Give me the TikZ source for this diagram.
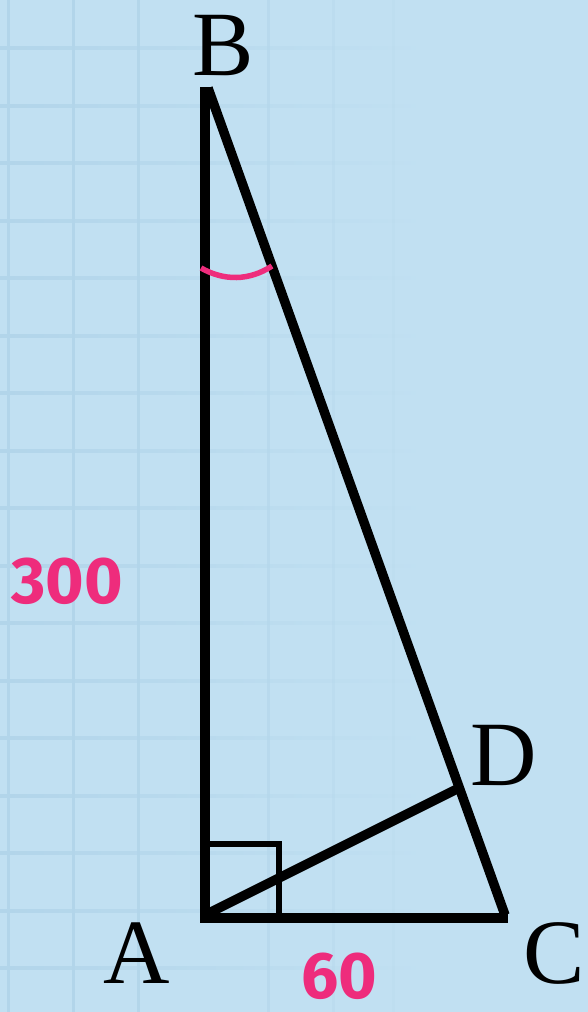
\documentclass[tikz,border=0pt]{standalone}
\usepackage{fontspec}
\setmainfont{Liberation Serif}
\newfontfamily\numfont{Fira Sans}[UprightFont=* Bold]
\definecolor{bgc}{HTML}{C1E0F2}
\definecolor{gridc}{HTML}{B2D5EA}
\definecolor{pinkc}{HTML}{EE2C7C}
\tikzset{
  side/.style={line width=10.5pt, line cap=butt},
  thin side/.style={line width=9.5pt, line cap=butt},
  rightmark/.style={line width=5.5pt},
  anglemark/.style={pinkc, line width=5.5pt},
  vlabel/.style={font=\fontsize{92}{92}\selectfont, anchor=base, inner sep=0pt},
  numlabel/.style={font=\numfont\fontsize{66}{66}\selectfont, text=pinkc, inner sep=0pt},
}
\begin{document}
\begin{tikzpicture}[x=1pt, y=-1pt]
\useasboundingbox (0,0) rectangle (588,1012);
\fill[bgc] (0,0) rectangle (588,1012);
% grid
\foreach \k in {0,...,16} {
  \fill[left color=gridc, right color=bgc] (0,{48+57.5*\k-1.5}) rectangle (430,{48+57.5*\k+1.5});
}
\foreach \xx/\op in {8/1, 73/1, 138/0.9, 268/0.55, 333/0.3, 393/0.15} {
  \fill[gridc, opacity=\op] (\xx-1.5,0) rectangle (\xx+1.5,1012);
}
% points
\coordinate (A) at (205,918);
\coordinate (B) at (208,88);
\coordinate (C) at (505,915);
\coordinate (D) at (459,788);
% sides
\draw[side] (205,87) -- (A |- 0,923);
\draw[side] (200,918) -- (508,918);
\draw[thin side] (B) -- (C);
\draw[thin side] (207,914) -- (D);
% right angle
\draw[rightmark] (205,844) -- (279,844) -- (279,916);
% angle at B
\draw[anglemark] (201,268) .. controls (224,281) and (249,281) .. (272,266);
% labels
\node[vlabel] (lB) at (223,75) {B};
\node[vlabel] (lA) at (137,983) {A};
\node[vlabel] (lC) at (554,983) {C};
\node[vlabel] (lD) at (504,785) {D};
\node[numlabel] (n300) at (67,581) {300};
\node[numlabel] (n60) at (339,976) {60};
\end{tikzpicture}
\end{document}
